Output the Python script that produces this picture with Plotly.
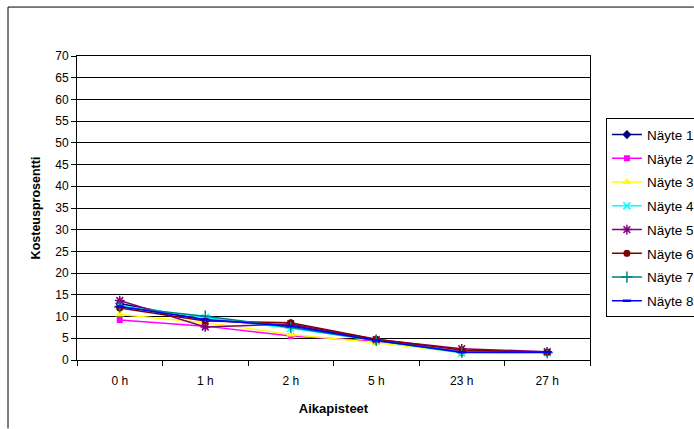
import plotly.graph_objects as go

# Time points (x categories)
aikapisteet = ["0 h", "1 h", "2 h", "5 h", "23 h", "27 h"]

# Moisture percentage per sample
nayte_1 = [13.0, 9.2, 8.0, 4.6, 1.8, 1.8]
nayte_2 = [9.2, 7.8, 5.5, 4.3, 2.0, 1.8]
nayte_3 = [10.5, 8.6, 5.9, 4.0, 1.7, 1.7]
nayte_4 = [12.5, 9.8, 7.3, 4.4, 1.6, 1.7]
nayte_5 = [13.7, 7.6, 8.3, 4.7, 2.6, 1.9]
nayte_6 = [12.0, 9.0, 8.6, 4.8, 2.3, 1.8]
nayte_7 = [12.2, 10.1, 7.5, 4.5, 1.8, 1.7]
nayte_8 = [12.3, 9.3, 7.8, 4.5, 1.8, 1.8]

y_ticks = list(range(0, 75, 5))

series = [
    ("Näyte 1", nayte_1, "#000080", "diamond", 7, False),
    ("Näyte 2", nayte_2, "#FF00FF", "square", 6, False),
    ("Näyte 3", nayte_3, "#FFFF00", "triangle-up", 8, False),
    ("Näyte 4", nayte_4, "#00FFFF", "x-thin-open", 7, True),
    ("Näyte 5", nayte_5, "#800080", "asterisk-open", 8, True),
    ("Näyte 6", nayte_6, "#800000", "circle", 7, False),
    ("Näyte 7", nayte_7, "#008080", "cross-thin-open", 8, True),
    ("Näyte 8", nayte_8, "#0000FF", "line-ew-open", 6, True),
]

FONT = "Liberation Sans, Arial, sans-serif"

fig = go.Figure()
for i, (name, vals, color, symbol, size, is_open) in enumerate(series):
    marker = dict(symbol=symbol, size=size, color=color)
    if is_open:
        marker["line"] = dict(color=color, width=2.5 if symbol == "line-ew-open" else 1.5)
    else:
        marker["line"] = dict(width=0)
    fig.add_trace(go.Scatter(
        x=aikapisteet, y=vals, name=name, mode="lines+markers",
        line=dict(color=color, width=1.5), marker=marker,
        legendgroup=f"g{i}",
    ))

# chart-area frame: left and top edges, kept inside the page
frame = dict(color="black", width=1)
fig.update_layout(
    width=694, height=429,
    margin=dict(l=77, r=104, t=56, b=69, autoexpand=False),
    paper_bgcolor="white", plot_bgcolor="white",
    font=dict(family=FONT, size=11, color="black"),
    showlegend=True,
    legend=dict(
        x=1.031, xanchor="left", y=0.795, yanchor="top",
        bordercolor="black", borderwidth=1, bgcolor="white",
        font=dict(family=FONT, size=13.5, color="black"),
        tracegroupgap=3.2, itemwidth=30,
    ),
    shapes=[
        dict(type="line", xref="paper", yref="paper",
             x0=-0.1345, x1=-0.1345, y0=-0.225, y1=1.161, line=frame, layer="below"),
        dict(type="line", xref="paper", yref="paper",
             x0=-0.1345, x1=1.2025, y0=1.161, y1=1.161, line=frame, layer="below"),
    ],
)

fig.update_xaxes(
    type="category", range=[-0.5, 5.5],
    showline=True, linecolor="black", linewidth=1, mirror=True,
    ticks="outside", tickson="boundaries", ticklen=5, tickcolor="black",
    showgrid=False, ticklabelstandoff=10,
    tickfont=dict(family=FONT, size=12),
    title=dict(text="<b>Aikapisteet</b>", font=dict(family=FONT, size=13), standoff=16),
)
fig.update_yaxes(
    range=[0, 70], tickvals=y_ticks,
    showline=True, linecolor="black", linewidth=1, mirror=True,
    ticks="outside", ticklen=5, tickcolor="black",
    showgrid=True, gridcolor="black", gridwidth=1, zeroline=False,
    tickfont=dict(family=FONT, size=12),
    title=dict(text="<b>Kosteusprosentti</b>", font=dict(family=FONT, size=12.5), standoff=11),
)

fig.write_html("out.html")
